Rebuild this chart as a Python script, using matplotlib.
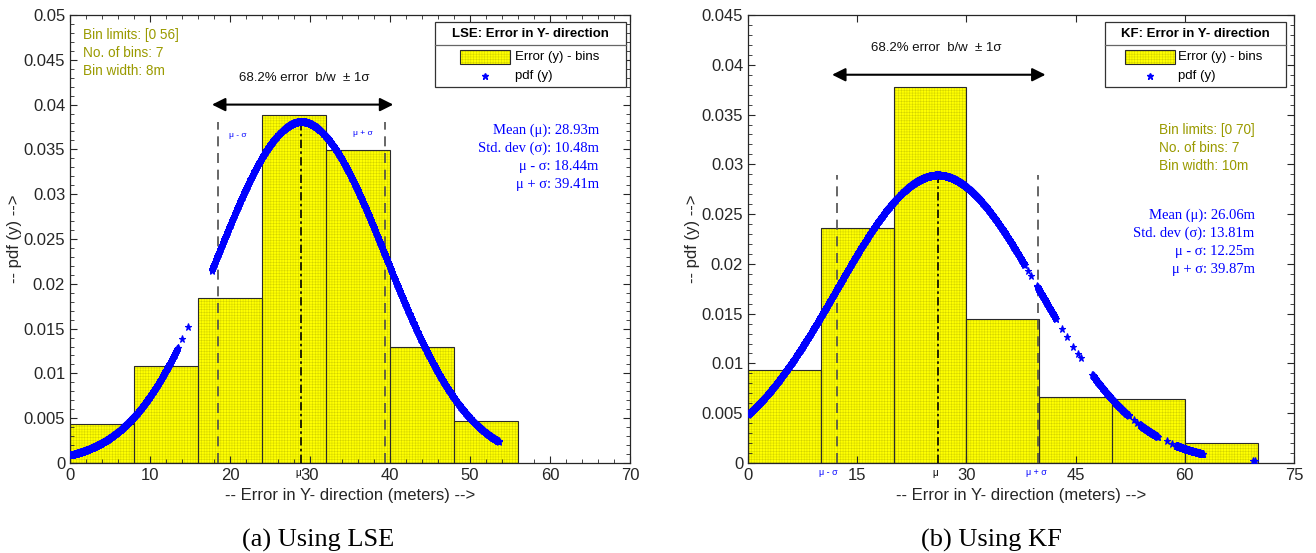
import matplotlib
matplotlib.use("Agg")
import matplotlib.pyplot as plt
import numpy as np
from matplotlib.patches import Rectangle
from matplotlib.ticker import MultipleLocator, FuncFormatter

# ---------------- data ----------------
lse_edges = [0, 8, 16, 24, 32, 40, 48, 56]
lse_heights = [0.0043, 0.0108, 0.0184, 0.0388, 0.0349, 0.0130, 0.0047]
lse_mu, lse_sigma = 28.93, 10.48
lse_stats = ["28.93", "10.48", "18.44", "39.41"]
lse_pdf_segments = [(0.0, 13.5), (17.7, 53.6)]
lse_pdf_single = [14.05, 14.7]

kf_edges = [0, 10, 20, 30, 40, 50, 60, 70]
kf_heights = [0.0093, 0.0236, 0.0378, 0.0145, 0.0066, 0.0064, 0.0020]
kf_mu, kf_sigma = 26.06, 13.81
kf_stats = ["26.06", "13.81", "12.25", "39.87"]
kf_pdf_segments = [(0.0, 38.0), (39.7, 42.3), (47.3, 52.3), (53.8, 56.3), (58.8, 62.5)]
kf_pdf_single = [38.5, 38.9, 43.1, 43.8, 44.7, 45.3, 45.7, 53.0, 53.5, 57.5, 58.3, 69.3, 69.6]

# ---------------- style ----------------
plt.rcParams["font.family"] = ["Liberation Sans", "DejaVu Sans"]
plt.rcParams["hatch.linewidth"] = 0.35
OLIVE = "#9a9a00"
HATCH_C = "#d2d200"
EDGE_C = "#2a2a2a"
SERIF = ["Liberation Serif", "DejaVu Serif"]


def normpdf(x, mu, s):
    return np.exp(-0.5 * ((x - mu) / s) ** 2) / (s * np.sqrt(2 * np.pi))


def pdf_x(segments, singles):
    parts = [np.linspace(a, b, int((b - a) * 30) + 2) for a, b in segments]
    parts.append(np.array(singles))
    return np.sort(np.concatenate(parts))


def matlab_legend(ax, title, box, hx, tx):
    # box = (x0, x1) in axes fraction, drawn like the matlab legend with a title row
    T = ax.transAxes
    x0, x1 = box
    y0, y1 = 0.839, 0.985
    ax.add_patch(Rectangle((x0, y0), x1 - x0, y1 - y0, transform=T, facecolor="white",
                           edgecolor="#333333", lw=0.9, zorder=10, clip_on=False))
    ax.plot([x0, x1], [0.932, 0.932], transform=T, color="#666666", lw=0.9, zorder=11)
    ax.text((x0 + x1) / 2, 0.958, title, transform=T, ha="center", va="center",
            fontsize=9.5, fontweight="bold", color="black", zorder=12)
    ax.add_patch(Rectangle((hx[0], 0.890), hx[1] - hx[0], 0.032, transform=T,
                           facecolor="yellow", edgecolor=HATCH_C, hatch="++++++",
                           lw=0, zorder=11))
    ax.add_patch(Rectangle((hx[0], 0.890), hx[1] - hx[0], 0.032, transform=T,
                           fill=False, edgecolor=EDGE_C, lw=0.8, zorder=12))
    ax.text(tx, 0.906, "Error (y) - bins", transform=T, ha="left", va="center",
            fontsize=9.5, color="black", zorder=12)
    ax.plot([(hx[0] + hx[1]) / 2], [0.864], transform=T, marker="*", color="blue",
            markersize=4.5, linestyle="none", zorder=12)
    ax.text(tx, 0.864, "pdf (y)", transform=T, ha="left", va="center",
            fontsize=9.5, color="black", zorder=12)


def panel(ax, edges, heights, mu, sigma, stats, segs, singles, xmax, ymax, xmajor, xminor,
          bin_lines, bin_xy, stat_xy, arrow_y, arrow_text_xy, sig_marks_inside):
    edges = np.array(edges, dtype=float)
    widths = np.diff(edges)
    ax.bar(edges[:-1], heights, width=widths, align="edge", color="yellow",
           edgecolor=HATCH_C, hatch="++++++", linewidth=0, zorder=1)
    ax.bar(edges[:-1], heights, width=widths, align="edge", fill=False,
           edgecolor=EDGE_C, linewidth=0.8, zorder=2)

    peak = normpdf(mu, mu, sigma)
    for xv in (mu - sigma, mu + sigma):
        ax.plot([xv, xv], [0, peak], color="0.3", lw=1.2, dashes=(6, 4), zorder=3)
    ax.plot([mu, mu], [0, peak], color="black", lw=1.2, dashes=(5, 2, 1.5, 2), zorder=3)

    xs = pdf_x(segs, singles)
    ax.plot(xs, normpdf(xs, mu, sigma), linestyle="none", marker="*", color="blue",
            markersize=5.2, markeredgewidth=0.8, zorder=4)

    # arrow +/- 1 sigma
    ax.annotate("", xy=(mu + sigma + 1.0, arrow_y), xytext=(mu - sigma - 0.7, arrow_y),
                arrowprops=dict(arrowstyle="<|-|>", color="black", lw=1.5,
                                mutation_scale=20, shrinkA=0, shrinkB=0))
    ax.text(arrow_text_xy[0], arrow_text_xy[1], "68.2% error  b/w  \u00b1 1\u03c3",
            ha="center", va="center", fontsize=9.5, color="#111111")

    # bin info (olive)
    for i, line in enumerate(bin_lines):
        ax.annotate(line, xy=bin_xy, xytext=(0, -12.9 * i), textcoords="offset points",
                    ha="left", va="center", fontsize=9.8, color=OLIVE)

    # stats (blue, serif)
    names = ["Mean (\u03bc): ", "Std. dev (\u03c3): ", "\u03bc - \u03c3: ", "\u03bc + \u03c3: "]
    for i, (nm, val) in enumerate(zip(names, stats)):
        ax.annotate(nm + val + "m", xy=stat_xy, xytext=(0, -13.0 * i),
                    textcoords="offset points", ha="right", va="center",
                    fontsize=10.5, color="blue", family=SERIF)

    # mu / sigma markers
    tr = ax.get_xaxis_transform()
    ax.text(mu, -0.022, "\u03bc", transform=tr, ha="right", va="center", fontsize=7,
            color="black")
    if sig_marks_inside:
        ax.text(mu - sigma + 2.5, 0.96 * peak, "\u03bc - \u03c3", ha="center",
                va="center", fontsize=6, color="blue")
        ax.text(mu + sigma - 2.8, 0.965 * peak, "\u03bc + \u03c3", ha="center",
                va="center", fontsize=6, color="blue")
    else:
        ax.text(mu - sigma, -0.022, "\u03bc - \u03c3", transform=tr, ha="right",
                va="center", fontsize=6.5, color="blue")
        ax.text(mu + sigma + 1.2, -0.022, "\u03bc + \u03c3", transform=tr, ha="right",
                va="center", fontsize=6.5, color="blue")

    ax.set_xlim(0, xmax)
    ax.set_ylim(0, ymax)
    ax.xaxis.set_major_locator(MultipleLocator(xmajor))
    if xminor:
        ax.xaxis.set_minor_locator(MultipleLocator(xminor))
    ax.yaxis.set_major_locator(MultipleLocator(0.005))
    ax.yaxis.set_minor_locator(MultipleLocator(0.001))
    ax.yaxis.set_major_formatter(FuncFormatter(lambda v, p: "%g" % round(v, 4)))
    ax.tick_params(which="both", direction="in", top=True, right=True,
                   labelsize=12, colors="#262626")
    ax.tick_params(which="major", length=5, width=0.8)
    ax.tick_params(which="minor", length=3, width=0.6)
    for s in ax.spines.values():
        s.set_color("#262626")
        s.set_linewidth(0.9)
    ax.set_xlabel("-- Error in Y- direction (meters) -->", fontsize=12, color="#262626",
                  labelpad=4)
    ax.set_ylabel("-- pdf (y) -->", fontsize=12, color="#262626", labelpad=1)


fig = plt.figure(figsize=(13.16, 5.53), dpi=100)
ax1 = fig.add_axes([70 / 1316, 1 - 463 / 553, 560 / 1316, 448 / 553])
ax2 = fig.add_axes([748 / 1316, 1 - 463 / 553, 546 / 1316, 448 / 553])

panel(ax1, lse_edges, lse_heights, lse_mu, lse_sigma, lse_stats, lse_pdf_segments,
      lse_pdf_single, 70, 0.05, 10, 2,
      ["Bin limits: [0 56]", "No. of bins: 7", "Bin width: 8m"],
      (1.6, 0.0478), (66.1, 0.0371), 0.0400, (29.3, 0.0430), True)
matlab_legend(ax1, "LSE: Error in Y- direction", (0.651, 0.992), (0.697, 0.786), 0.794)

panel(ax2, kf_edges, kf_heights, kf_mu, kf_sigma, kf_stats, kf_pdf_segments,
      kf_pdf_single, 75, 0.045, 15, None,
      ["Bin limits: [0 70]", "No. of bins: 7", "Bin width: 10m"],
      (56.5, 0.0334), (69.6, 0.0249), 0.0390, (25.8, 0.0417), False)
matlab_legend(ax2, "KF: Error in Y- direction", (0.653, 0.985), (0.691, 0.782), 0.787)

fig.text(318 / 1316, 1 - 540 / 553, "(a) Using LSE", ha="center", va="center",
         fontsize=19, family=SERIF)
fig.text(991 / 1316, 1 - 540 / 553, "(b) Using KF", ha="center", va="center",
         fontsize=19, family=SERIF)

fig.savefig("out.png", dpi=100)
